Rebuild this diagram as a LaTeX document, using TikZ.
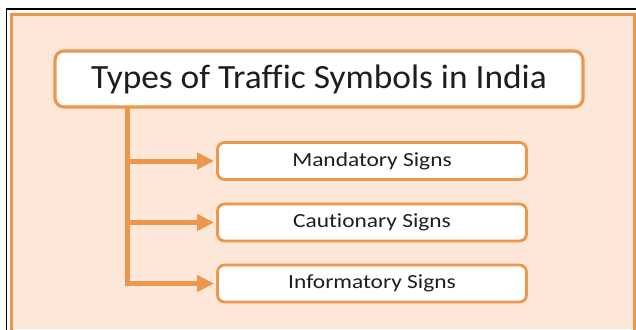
\documentclass[tikz,border=0pt]{standalone}
\usepackage{fontspec}
\setmainfont{Carlito}
\newfontfamily\titleCarlito[FakeStretch=1.04,Ligatures=NoCommon]{Carlito}
\newfontfamily\signCarlito[FakeStretch=1.17,Ligatures=NoCommon]{Carlito}
\usetikzlibrary{arrows.meta}
\definecolor{peach}{RGB}{252,231,216}
\definecolor{orng}{RGB}{236,150,78}
\definecolor{txt}{RGB}{30,30,30}
\tikzset{
  titlebox/.style={draw=orng, line width=3.2pt, fill=white, rounded corners=9pt,
    minimum width=528pt, minimum height=56pt, inner sep=0pt, text=txt,
    font=\titleCarlito\fontsize{34}{38}\selectfont},
  signbox/.style={draw=orng, line width=2.8pt, fill=white, rounded corners=7pt,
    minimum width=309pt, minimum height=37pt, inner sep=0pt, text=txt,
    font=\signCarlito\fontsize{20}{24}\selectfont},
  branch/.style={draw=orng, line width=5pt, -{Triangle[length=17pt,width=16pt]}, shorten >=2pt}
}
\begin{document}
\begin{tikzpicture}[x=1pt,y=-1pt]
\useasboundingbox (0,0) rectangle (636,329);
\fill[white] (0,0) rectangle (636,329);
\fill[peach] (11,15) rectangle (634,329);
\draw[orng, line width=3pt] (11,331) -- (11,15) -- (634,15) -- (634,331);
\draw[black, line width=1.6pt] (6.5,331) -- (6.5,9) -- (638,9);
\node[titlebox] (title) at (319,79) {Types of Traffic Symbols in India};
\node[signbox] (m) at (372,161) {Mandatory Signs};
\node[signbox] (c) at (372,222.5) {Cautionary Signs};
\node[signbox] (i) at (372,283.5) {Informatory Signs};
\coordinate (trunk) at (127,108);
\draw[branch] (trunk) |- (i.west);
\draw[branch] (trunk) |- (c.west);
\draw[branch] (trunk) |- (m.west);
\end{tikzpicture}
\end{document}
